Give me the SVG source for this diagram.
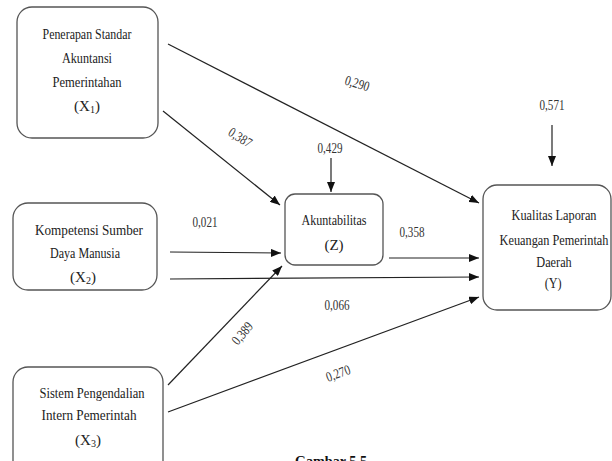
<svg xmlns="http://www.w3.org/2000/svg" width="612" height="461" viewBox="0 0 612 461">
<defs>
<marker id="ah" viewBox="0 0 10 8" refX="10" refY="4" markerWidth="10" markerHeight="8" markerUnits="userSpaceOnUse" orient="auto">
<path d="M0,0 L10,4 L0,8 z" fill="#111"/>
</marker>
</defs>
<style>
.box{fill:#fff;stroke:#555;stroke-width:1.3}
.t{font-family:"Liberation Serif","Times New Roman","DejaVu Serif",serif;font-size:15px;fill:#222;text-anchor:middle}
.n{font-family:"Liberation Serif","Times New Roman","DejaVu Serif",serif;font-size:14px;fill:#333;text-anchor:middle}
.c{stroke:#222;stroke-width:1.2;fill:none;marker-end:url(#ah)}
.cap{font-family:"Liberation Serif","Times New Roman","DejaVu Serif",serif;font-size:14px;font-weight:bold;fill:#111;text-anchor:middle}
</style>
<rect width="612" height="461" fill="#fff"/>
<g id="connectors">
<line class="c" x1="168" y1="44" x2="479" y2="203"/>
<line class="c" x1="163" y1="111" x2="280" y2="205"/>
<line class="c" x1="170" y1="252" x2="281" y2="253"/>
<line class="c" x1="170" y1="279" x2="479" y2="277"/>
<line class="c" x1="389" y1="258" x2="479" y2="258"/>
<line class="c" x1="168" y1="385" x2="282" y2="266"/>
<line class="c" x1="168" y1="412" x2="479" y2="297"/>
<line class="c" x1="331" y1="158" x2="331" y2="192"/>
<line class="c" x1="552" y1="125" x2="552" y2="166"/>
</g>
<g id="labels">
<text class="n" x="357" y="88" transform="rotate(17 357 84)" textLength="25" lengthAdjust="spacingAndGlyphs">0,290</text>
<text class="n" x="240" y="142" transform="rotate(32 240 138)" textLength="25" lengthAdjust="spacingAndGlyphs">0,387</text>
<text class="n" x="330" y="153" textLength="25" lengthAdjust="spacingAndGlyphs">0,429</text>
<text class="n" x="552" y="110" textLength="25" lengthAdjust="spacingAndGlyphs">0,571</text>
<text class="n" x="205" y="227" textLength="25" lengthAdjust="spacingAndGlyphs">0,021</text>
<text class="n" x="412" y="237" textLength="25" lengthAdjust="spacingAndGlyphs">0,358</text>
<text class="n" x="337" y="310" textLength="25" lengthAdjust="spacingAndGlyphs">0,066</text>
<text class="n" x="242" y="338" transform="rotate(-50 242 333)" textLength="25" lengthAdjust="spacingAndGlyphs">0,389</text>
<text class="n" x="338" y="378" transform="rotate(-20 338 373)" textLength="25" lengthAdjust="spacingAndGlyphs">0,270</text>
</g>
<g id="X1">
<rect class="box" x="17" y="7" width="141" height="131" rx="15"/>
<text class="t" x="87" y="39" textLength="89" lengthAdjust="spacingAndGlyphs">Penerapan Standar</text>
<text class="t" x="87" y="63" textLength="50" lengthAdjust="spacingAndGlyphs">Akuntansi</text>
<text class="t" x="87" y="87" textLength="69" lengthAdjust="spacingAndGlyphs">Pemerintahan</text>
<text class="t" x="87" y="111">(X<tspan font-size="10" dy="2">1</tspan><tspan dy="-2">)</tspan></text>
</g>
<g id="X2">
<rect class="box" x="13" y="203" width="144" height="87" rx="15"/>
<text class="t" x="89" y="235" textLength="108" lengthAdjust="spacingAndGlyphs">Kompetensi Sumber</text>
<text class="t" x="85" y="258" textLength="70" lengthAdjust="spacingAndGlyphs">Daya Manusia</text>
<text class="t" x="83" y="282">(X<tspan font-size="10" dy="2">2</tspan><tspan dy="-2">)</tspan></text>
</g>
<g id="X3">
<rect class="box" x="13" y="367" width="150" height="110" rx="15"/>
<text class="t" x="92" y="398" textLength="105" lengthAdjust="spacingAndGlyphs">Sistem Pengendalian</text>
<text class="t" x="89" y="420" textLength="95" lengthAdjust="spacingAndGlyphs">Intern Pemerintah</text>
<text class="t" x="88" y="445">(X<tspan font-size="10" dy="2">3</tspan><tspan dy="-2">)</tspan></text>
</g>
<g id="Z">
<rect class="box" x="285" y="194" width="98" height="71" rx="10"/>
<text class="t" x="334" y="225" textLength="65" lengthAdjust="spacingAndGlyphs">Akuntabilitas</text>
<text class="t" x="334" y="250">(Z)</text>
</g>
<g id="Y">
<rect class="box" x="483" y="185" width="128" height="125" rx="14"/>
<g transform="translate(554 0) scale(0.82 1)">
<text class="t" x="0" y="220">Kualitas Laporan</text>
<text class="t" x="0" y="245">Keuangan Pemerintah</text>
<text class="t" x="0" y="267">Daerah</text>
<text class="t" x="-1" y="288">(Y)</text>
</g>
</g>
<text class="cap" x="331" y="466" textLength="72" lengthAdjust="spacingAndGlyphs">Gambar 5.5</text>
</svg>
